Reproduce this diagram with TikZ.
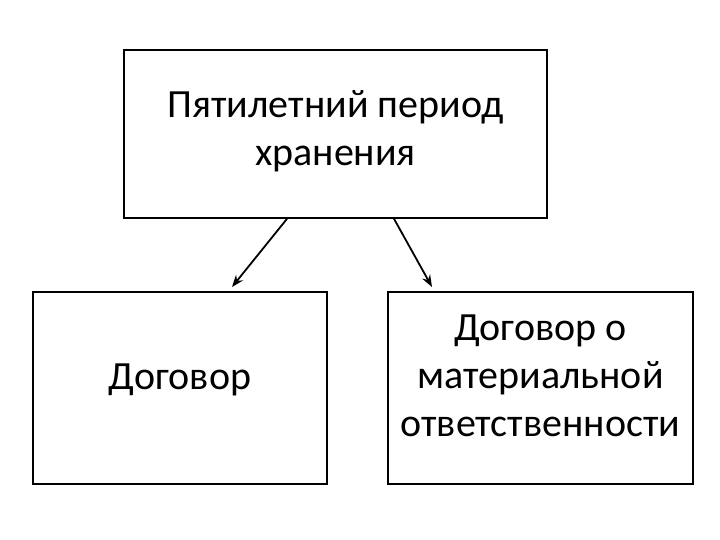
\documentclass[tikz,border=0pt]{standalone}
\usepackage{fontspec}
\setmainfont{Carlito}
\usetikzlibrary{arrows.meta}
\begin{document}
\begin{tikzpicture}[x=1pt,y=-1pt,
  box/.style={draw=black, line width=1.6pt, fill=white, align=center, inner sep=0pt,
    font=\fontsize{40}{48}\selectfont},
  conn/.style={line width=1.8pt, -{Stealth[length=12pt,width=9pt]}}]
\useasboundingbox (0,0) rectangle (720,540);
\node[box, minimum width=423pt, minimum height=168pt, text depth=13pt] (top) at (335.5,134) {Пятилетний период\\хранения};
\node[box, minimum width=294pt, minimum height=192pt, text depth=22pt] (left) at (180,388) {Договор};
\node[box, minimum width=305pt, minimum height=192pt, text depth=24pt] (right) at (540.5,388) {Договор о\\материальной\\ответственности};
\coordinate (s1) at (287,219);
\coordinate (e1) at (232,287);
\coordinate (s2) at (394,219);
\coordinate (e2) at (432,287);
\draw[conn] (top.south -| s1) -- (e1);
\draw[conn] (top.south -| s2) -- (e2);
\end{tikzpicture}
\end{document}
